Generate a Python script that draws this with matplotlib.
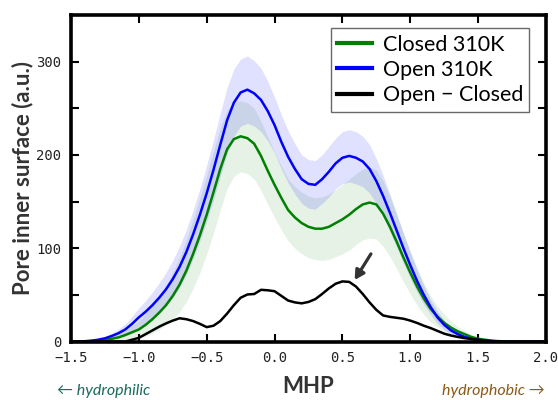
import numpy as np
import matplotlib
matplotlib.use("Agg")
import matplotlib.pyplot as plt

# MHP grid (step 0.05 from -1.5 to 2.0)
mhp = np.round(np.arange(-1.5, 2.0001, 0.05), 2)

closed_310 = [0, 0, 0.2, 0.5, 1, 2, 3, 4.5, 7, 10,
              13, 18, 24, 31, 39, 49, 61, 76, 94, 114,
              136, 160, 185, 206, 217, 220, 218, 212, 199, 183,
              168, 154, 141, 133, 127, 123, 121, 121, 123, 127,
              131, 136, 142, 147, 149, 147, 137, 123, 107, 90,
              74, 59, 46, 35, 27, 20, 15, 11, 8, 5,
              3, 2, 1, 0.5, 0.2, 0, 0, 0, 0, 0, 0]
closed_std = [0, 0, 0.2, 0.5, 1, 1.5, 2.5, 3.5, 5, 7,
              9, 12, 15, 18, 21, 25, 29, 33, 37, 40,
              42, 44, 44, 42, 40, 38, 38, 38, 37, 36,
              35, 34, 33, 33, 33, 33, 33, 34, 35, 36,
              37, 38, 38, 38, 38, 37, 35, 32, 29, 26,
              23, 20, 17, 14, 11, 9, 7, 5, 4, 3,
              2, 1.4, 0.8, 0.4, 0.2, 0, 0, 0, 0, 0, 0]

open_310 = [0, 0.1, 0.4, 1, 2, 3.5, 6, 9, 13, 19,
            26, 32, 39, 47, 56, 67, 80, 96, 115, 136,
            159, 184, 211, 237, 256, 267, 270, 266, 259, 247,
            232, 214, 198, 185, 174, 169, 168, 174, 182, 191,
            197, 199, 197, 193, 185, 172, 156, 138, 119, 100,
            82, 65, 50, 37, 26, 18, 12, 8, 5, 3,
            2, 1, 0.5, 0.2, 0.1, 0, 0, 0, 0, 0, 0]
open_std = [0, 0, 0.3, 0.7, 1.2, 2, 3, 4.5, 6, 8,
            10, 12, 14, 16, 18, 20, 22, 24, 26, 28,
            30, 32, 34, 35, 36, 36, 36, 35, 34, 32,
            30, 29, 28, 27, 26, 26, 26, 26, 27, 27,
            28, 28, 28, 27, 26, 24, 22, 20, 18, 16,
            14, 12, 10, 8, 6.5, 5, 4, 3, 2, 1.5,
            1, 0.7, 0.4, 0.2, 0.1, 0, 0, 0, 0, 0, 0]

difference = [0, 0, 0, 0, 0, 0, 0, 0, 0, 2,
              4, 8, 12, 16, 19.5, 22.5, 25, 24, 22, 19,
              15.5, 17, 22, 30, 39, 47, 50.5, 51, 55.5, 55,
              54, 49, 44, 42, 41, 42.5, 45.5, 51, 57, 62,
              64.5, 64, 59, 51, 42, 34, 28, 26.5, 25.5, 24.5,
              22.5, 20, 17, 14.5, 11.5, 8.5, 6.5, 5, 3.7, 2.8,
              2, 1, 0.5, 0.2, 0, 0, 0, 0, 0, 0, 0]

closed_310 = np.array(closed_310)
open_310 = np.array(open_310)
closed_std = np.array(closed_std)
open_std = np.array(open_std)

fig = plt.figure(figsize=(5.58, 4.0), dpi=100)
ax = fig.add_axes([0.1272, 0.146, 0.8513, 0.8165])

ax.fill_between(mhp, closed_310 - closed_std, closed_310 + closed_std,
                color="green", alpha=0.1, lw=0)
ax.fill_between(mhp, open_310 - open_std, open_310 + open_std,
                color="blue", alpha=0.12, lw=0)
ax.plot(mhp, closed_310, color="green", lw=1.8, label="Closed 310K")
ax.plot(mhp, open_310, color="blue", lw=1.8, label="Open 310K")
ax.plot(mhp, difference, color="black", lw=1.8, label="Open \u2212 Closed")

ax.annotate("", xy=(0.59, 66), xytext=(0.71, 94),
            arrowprops=dict(arrowstyle="-|>,head_width=0.3,head_length=0.55",
                            color="#333333", lw=2.3, shrinkA=0, shrinkB=0))

ax.set_xlim(-1.5, 2.0)
ax.set_ylim(0, 350)
ax.set_xticks(np.arange(-1.5, 2.01, 0.5))
ax.set_yticks(np.arange(0, 351, 50))
ax.set_yticklabels(["0", "", "100", "", "200", "", "300", ""])
ax.tick_params(direction="in", length=6, width=1.5, top=True, right=True,
               labelsize=10, pad=7, labelcolor="#222222")
for lab in ax.get_xticklabels() + ax.get_yticklabels():
    lab.set_family("DejaVu Sans Mono")
for sp in ax.spines.values():
    sp.set_linewidth(2.6)

ax.set_xlabel("MHP", family="Lato", fontweight="bold", fontsize=16,
              color="#333333", labelpad=8)
ax.set_ylabel("Pore inner surface (a.u.)", family="Lato", fontweight="bold",
              fontsize=16, color="#333333", labelpad=2)

fig.text(0.103, 0.012, "\u2190 hydrophilic", family=["Lato", "DejaVu Sans"],
         style="italic", fontsize=11.5, color="#1b6b5c")
fig.text(0.977, 0.012, "hydrophobic \u2192", family=["Lato", "DejaVu Sans"],
         style="italic", fontsize=11.5, color="#8b5a14", ha="right")

leg = ax.legend(loc="upper right", bbox_to_anchor=(0.965, 0.96),
                prop={"family": "Lato", "size": 15.5}, fancybox=False,
                edgecolor="#444444", handlelength=1.6, handletextpad=0.5,
                labelspacing=0.25, borderpad=0.3, borderaxespad=0)
leg.get_frame().set_linewidth(1.0)
for line in leg.get_lines():
    line.set_linewidth(3)

fig.savefig("out.png", dpi=100)
